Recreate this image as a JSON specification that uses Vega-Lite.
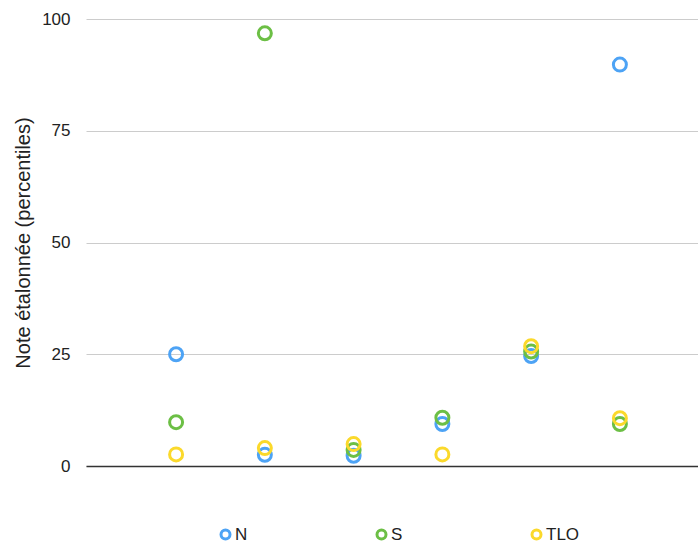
{
  "$schema": "https://vega.github.io/schema/vega-lite/v6.json",
  "width": 612,
  "height": 447,
  "padding": {"left": 86, "top": 19, "right": 0, "bottom": 81},
  "autosize": {"type": "none"},
  "background": "white",
  "config": {
    "view": {"stroke": null},
    "font": "Liberation Sans"
  },
  "data": {
    "values": [
      {"groupe": 1, "serie": "N", "note": 25},
      {"groupe": 2, "serie": "N", "note": 2.5},
      {"groupe": 3, "serie": "N", "note": 2.3},
      {"groupe": 4, "serie": "N", "note": 9.4},
      {"groupe": 5, "serie": "N", "note": 24.6},
      {"groupe": 6, "serie": "N", "note": 89.8},
      {"groupe": 1, "serie": "S", "note": 9.8},
      {"groupe": 2, "serie": "S", "note": 96.8},
      {"groupe": 3, "serie": "S", "note": 3.6},
      {"groupe": 4, "serie": "S", "note": 10.8},
      {"groupe": 5, "serie": "S", "note": 25.6},
      {"groupe": 6, "serie": "S", "note": 9.4},
      {"groupe": 1, "serie": "TLO", "note": 2.6},
      {"groupe": 2, "serie": "TLO", "note": 4},
      {"groupe": 3, "serie": "TLO", "note": 4.9},
      {"groupe": 4, "serie": "TLO", "note": 2.6},
      {"groupe": 5, "serie": "TLO", "note": 26.8},
      {"groupe": 6, "serie": "TLO", "note": 10.7}
    ]
  },
  "mark": {"type": "point", "shape": "circle", "filled": false, "strokeWidth": 3, "size": 169, "opacity": 1},
  "encoding": {
    "x": {
      "field": "groupe",
      "type": "quantitative",
      "scale": {"domain": [-0.015, 6.88], "nice": false, "zero": false},
      "axis": {
        "title": null,
        "labels": false,
        "ticks": false,
        "grid": false,
        "domain": true,
        "domainColor": "#333333",
        "domainWidth": 1.5
      }
    },
    "y": {
      "field": "note",
      "type": "quantitative",
      "scale": {"domain": [0, 100], "nice": false},
      "axis": {
        "title": "Note étalonnée (percentiles)",
        "titleFontSize": 20,
        "titleFontWeight": "normal",
        "titleColor": "#222222",
        "titlePadding": 8,
        "values": [0, 25, 50, 75, 100],
        "labelFontSize": 17,
        "labelColor": "#222222",
        "labelPadding": 16,
        "ticks": false,
        "domain": false,
        "grid": true,
        "gridColor": "#cccccc",
        "gridWidth": 1
      }
    },
    "color": {
      "field": "serie",
      "type": "nominal",
      "scale": {"domain": ["N", "S", "TLO"], "range": ["#4da3f5", "#6cbf45", "#fbd92b"]},
      "legend": {
        "title": null,
        "orient": "none",
        "direction": "horizontal",
        "legendX": 131,
        "legendY": 507,
        "padding": 0,
        "symbolType": "circle",
        "symbolSize": 81,
        "symbolStrokeWidth": 3,
        "symbolFillColor": "transparent",
        "labelFontSize": 17,
        "labelColor": "#222222",
        "labelOffset": 1,
        "columnPadding": 123
      }
    }
  }
}
